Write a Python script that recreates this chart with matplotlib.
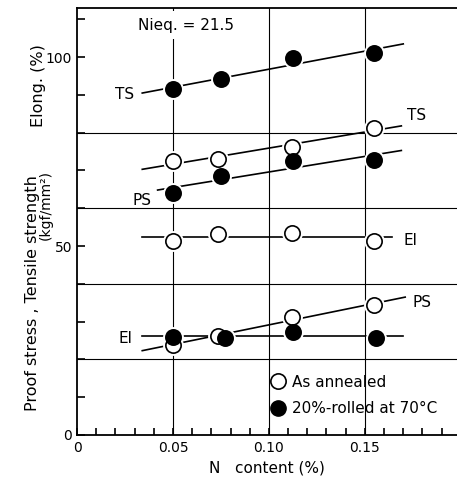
import numpy as np
import matplotlib
matplotlib.use("Agg")
import matplotlib.pyplot as plt
from matplotlib.lines import Line2D

# N content (%) of each test point
n_open = [0.050, 0.0735, 0.112, 0.155]
n_fill = [0.050, 0.0750, 0.1125, 0.155]
n_el_fill = [0.050, 0.077, 0.1125, 0.156]

# as annealed (open symbols)
ts_open = [72.5, 73.0, 76.2, 81.2]
ps_open = [23.8, 26.2, 31.2, 34.4]
el_open = [51.3, 53.2, 53.4, 51.3]

# 20%-rolled at 70C (filled symbols)
ts_fill = [91.5, 94.2, 99.7, 101.1]
ps_fill = [64.0, 68.5, 72.5, 72.8]
el_fill = [25.9, 25.7, 27.2, 25.7]

# x range covered by each drawn trend line
fit_range = {
    "ts_fill": (0.034, 0.170),
    "ts_open": (0.034, 0.169),
    "ps_fill": (0.042, 0.169),
    "el_open": (0.034, 0.164),
    "ps_open": (0.034, 0.171),
    "el_fill": (0.034, 0.170),
}

plt.rcParams['font.family'] = ['DejaVu Sans']

fig = plt.figure(figsize=(4.57, 4.80), dpi=100)
ax = fig.add_axes([77 / 457, 45 / 480, 380 / 457, 427 / 480])


def trend(x, y, key, deg):
    coef = np.polyfit(x, y, deg)
    xs = np.array(fit_range[key])
    ax.plot(xs, np.polyval(coef, xs), color='black', lw=1.2, zorder=2)


def points(x, y, filled):
    ax.plot(x, y, 'o', ms=14, mfc='white', mec='white', zorder=3)
    ax.plot(x, y, 'o', ms=11, mfc='black' if filled else 'white',
            mec='black', mew=1.2, zorder=4)


trend(n_fill, ts_fill, "ts_fill", 1)
trend(n_open, ts_open, "ts_open", 1)
trend(n_fill, ps_fill, "ps_fill", 1)
trend(n_open, el_open, "el_open", 0)
trend(n_open, ps_open, "ps_open", 1)
trend(n_el_fill, el_fill, "el_fill", 0)

points(n_fill, ts_fill, True)
points(n_open, ts_open, False)
points(n_fill, ps_fill, True)
points(n_open, el_open, False)
points(n_open, ps_open, False)
points(n_el_fill, el_fill, True)

# grid
for g in [20, 40, 60, 80]:
    ax.axhline(g, color='black', lw=0.8, zorder=1)
for g in [0.05, 0.10, 0.15]:
    ax.axvline(g, color='black', lw=0.8, zorder=1)

fs = 11
ax.text(0.030, 90.0, "TS", ha='right', va='center', fontsize=fs)
ax.text(0.172, 84.5, "TS", ha='left', va='center', fontsize=fs)
ax.text(0.039, 62.0, "PS", ha='right', va='center', fontsize=fs)
ax.text(0.170, 51.5, "El", ha='left', va='center', fontsize=fs)
ax.text(0.175, 35.0, "PS", ha='left', va='center', fontsize=fs)
ax.text(0.029, 25.6, "El", ha='right', va='center', fontsize=fs)
ax.text(0.032, 108.5, "Nieq. = 21.5", ha='left', va='center', fontsize=fs,
        zorder=5, bbox=dict(facecolor='white', edgecolor='none', pad=5))

ax.set_xlim(0, 0.198)
ax.set_ylim(0, 113)
ax.set_xticks([0, 0.05, 0.10, 0.15])
ax.set_xticklabels(["0", "0.05", "0.10", "0.15"])
ax.set_xticks(np.arange(0, 0.195, 0.01), minor=True)
ax.set_yticks([0, 50, 100])
ax.set_yticks(np.arange(0, 111, 10), minor=True)
ax.tick_params(which='both', direction='in', length=6, width=1.2,
               labelsize=10, colors='black')
ax.tick_params(axis='x', which='both', length=5, pad=4)
ax.spines['right'].set_visible(False)
for s in ['left', 'bottom', 'top']:
    ax.spines[s].set_linewidth(1.3)

ax.set_xlabel("N   content (%)", fontsize=11, labelpad=4)
fig.text(33 / 457, 1 - 293 / 480, "Proof stress , Tensile strength",
         rotation=90, ha='center', va='center', fontsize=11.5)
fig.text(46 / 457, 1 - 205 / 480, "(kgf/mm²)",
         rotation=90, ha='center', va='center', fontsize=10)
fig.text(38 / 457, 1 - 86 / 480, "Elong. (%)",
         rotation=90, ha='center', va='center', fontsize=11.5)

handles = [
    Line2D([], [], ls='none', marker='o', ms=11, mfc='white', mec='black', mew=1.2),
    Line2D([], [], ls='none', marker='o', ms=11, mfc='black', mec='black'),
]
ax.legend(handles, ["As annealed", "20%-rolled at 70°C"], loc='lower left',
          bbox_to_anchor=(0.49, 0.03), frameon=False, fontsize=11,
          handletextpad=0.3, handlelength=1.2, labelspacing=0.75,
          borderaxespad=0)

fig.savefig("out.png", dpi=100)
